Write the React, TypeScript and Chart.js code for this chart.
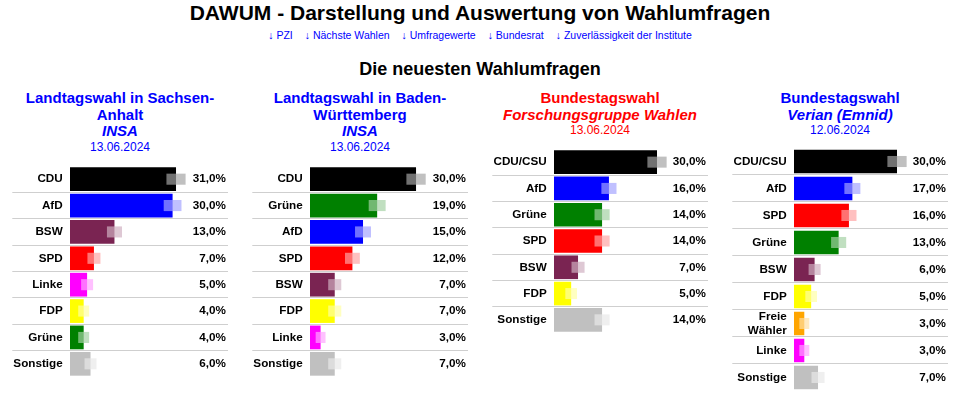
import React, { useEffect, useRef } from 'react';
import { Chart, registerables } from 'chart.js';

Chart.register(...registerables);

const FONT = "'Liberation Sans', Arial, Helvetica, sans-serif";

const pageTitle = 'DAWUM - Darstellung und Auswertung von Wahlumfragen';
const navLinks = ['PZI', 'Nächste Wahlen', 'Umfragewerte', 'Bundesrat', 'Zuverlässigkeit der Institute'];
const sectionTitle = 'Die neuesten Wahlumfragen';

// Panel 1: Sachsen-Anhalt, INSA
const saTitle = ['Landtagswahl in Sachsen-', 'Anhalt'];
const saInstitute = 'INSA';
const saDate = '13.06.2024';
const saParties = ['CDU', 'AfD', 'BSW', 'SPD', 'Linke', 'FDP', 'Grüne', 'Sonstige'];
const saValues = [31, 30, 13, 7, 5, 4, 4, 6];
const saMargins = [2.8, 2.6, 2.2, 1.9, 1.75, 1.6, 1.6, 1.75];

// Panel 2: Baden-Württemberg, INSA
const bwTitle = ['Landtagswahl in Baden-', 'Württemberg'];
const bwInstitute = 'INSA';
const bwDate = '13.06.2024';
const bwParties = ['CDU', 'Grüne', 'AfD', 'SPD', 'BSW', 'FDP', 'Linke', 'Sonstige'];
const bwValues = [30, 19, 15, 12, 7, 7, 3, 7];
const bwMargins = [2.73, 2.4, 2.26, 2.1, 1.85, 1.85, 1.4, 1.85];

// Panel 3: Bundestag, Forschungsgruppe Wahlen
const fgTitle = ['Bundestagswahl'];
const fgInstitute = 'Forschungsgruppe Wahlen';
const fgDate = '13.06.2024';
const fgParties = ['CDU/CSU', 'AfD', 'Grüne', 'SPD', 'BSW', 'FDP', 'Sonstige'];
const fgValues = [30, 16, 14, 14, 7, 5, 14];
const fgMargins = [2.8, 2.2, 2.2, 2.2, 1.9, 1.7, 2.2];

// Panel 4: Bundestag, Verian (Emnid)
const vtTitle = ['Bundestagswahl'];
const vtInstitute = 'Verian (Emnid)';
const vtDate = '12.06.2024';
const vtParties = ['CDU/CSU', 'AfD', 'SPD', 'Grüne', 'BSW', 'FDP', 'Freie Wähler', 'Linke', 'Sonstige'];
const vtValues = [30, 17, 16, 13, 6, 5, 3, 3, 7];
const vtMargins = [2.8, 2.33, 2.2, 2.2, 1.75, 1.7, 1.45, 1.45, 1.9];

const partyColors: Record<string, string> = {
  CDU: '#000000',
  'CDU/CSU': '#000000',
  AfD: '#0000ff',
  BSW: '#7a2452',
  SPD: '#ff0000',
  Linke: '#ff00ff',
  FDP: '#ffff00',
  'Grüne': '#008000',
  Sonstige: '#c0c0c0',
  'Freie Wähler': '#ffa500',
};

function squareColor(hex: string): string {
  const r = parseInt(hex.slice(1, 3), 16);
  const g = parseInt(hex.slice(3, 5), 16);
  const b = parseInt(hex.slice(5, 7), 16);
  const mix = (c: number) => Math.round(c * 0.36 + 255 * 0.64);
  return `rgba(${mix(r)},${mix(g)},${mix(b)},0.69)`;
}

const fmt = (v: number) => v.toFixed(1).replace('.', ',') + '%';

type ChartProps = {
  parties: string[];
  values: number[];
  margins: number[];
  left: number;
  top: number;
  height: number;
  barStart: number;
  xMax: number;
  padTop: number;
  padBottom: number;
  barPct: number;
  sqPct: number;
};

function PollChart(p: ChartProps) {
  const ref = useRef<HTMLCanvasElement>(null);
  useEffect(() => {
    const canvas = ref.current;
    if (!canvas) return;
    const tickLength = p.barStart - 12.3;
    const labelFont = { family: FONT, size: 11.7, weight: 'bold' as const, lineHeight: 1.2 };
    const sep = (ctx: any) =>
      ctx.type === 'tick' && ctx.index > 0 ? '#cfcfcf' : 'rgba(0,0,0,0)';
    const chart = new Chart(canvas, {
      type: 'bar',
      data: {
        labels: p.parties.map((n) => (n.includes(' ') ? n.split(' ') : n)),
        datasets: [
          {
            data: p.values.map((v, i) => [v - p.margins[i], v + p.margins[i]]),
            backgroundColor: p.parties.map((n) => squareColor(partyColors[n])),
            barPercentage: p.sqPct,
            categoryPercentage: 1,
            grouped: false,
            order: 0,
          } as any,
          {
            data: p.values,
            backgroundColor: p.parties.map((n) => partyColors[n]),
            barPercentage: p.barPct,
            categoryPercentage: 1,
            grouped: false,
            order: 1,
          } as any,
        ],
      },
      options: {
        indexAxis: 'y',
        responsive: false,
        animation: false,
        layout: { padding: { left: 0, right: 12, top: p.padTop, bottom: p.padBottom } },
        plugins: { legend: { display: false }, tooltip: { enabled: false } },
        scales: {
          x: { display: false, min: 0, max: p.xMax },
          y: {
            type: 'category',
            position: 'left',
            offset: true,
            grid: {
              offset: true,
              color: sep,
              tickColor: sep,
              lineWidth: 1,
              drawTicks: true,
              tickLength,
            },
            border: { display: false },
            ticks: {
              autoSkip: false,
              padding: 7.3 - tickLength,
              color: '#000',
              font: labelFont,
            },
            afterFit: (s: any) => {
              s.width = p.barStart;
            },
          },
          y2: {
            type: 'category',
            position: 'right',
            offset: true,
            labels: p.values.map(fmt),
            grid: { display: false },
            border: { display: false },
            ticks: { autoSkip: false, mirror: true, padding: -2, color: '#000', font: labelFont },
            afterFit: (s: any) => {
              s.width = 0;
            },
          },
        },
      } as any,
    });
    return () => chart.destroy();
  }, []);
  return (
    <canvas
      ref={ref}
      width={240}
      height={p.height}
      style={{ position: 'absolute', left: p.left, top: p.top, width: 240, height: p.height }}
    />
  );
}

function PanelTitle(props: { left: number; lines: string[]; institute: string; date: string; color: string }) {
  const { left, lines, institute, date, color } = props;
  const lineStyle: React.CSSProperties = {
    fontSize: 15,
    fontWeight: 'bold',
    lineHeight: '16.5px',
    height: 16.5,
    whiteSpace: 'nowrap',
  };
  return (
    <div
      style={{
        position: 'absolute',
        left,
        top: 90,
        width: 240,
        textAlign: 'center',
        color,
        fontFamily: FONT,
      }}
    >
      {lines.map((l, i) => (
        <div key={i} style={lineStyle}>
          {l}
        </div>
      ))}
      <div style={{ ...lineStyle, fontStyle: 'italic' }}>{institute}</div>
      <div style={{ fontSize: 12, lineHeight: '14px', height: 14 }}>{date}</div>
    </div>
  );
}

export default function App() {
  return (
    <div
      style={{
        position: 'fixed',
        left: 0,
        top: 0,
        width: 964,
        height: 396,
        overflow: 'hidden',
        background: '#fff',
        fontFamily: FONT,
      }}
    >
      <div
        style={{
          position: 'absolute',
          left: 0,
          top: 1,
          width: 960,
          textAlign: 'center',
          fontSize: 21,
          fontWeight: 'bold',
          lineHeight: '24px',
          color: '#000',
        }}
      >
        {pageTitle}
      </div>
      <div
        style={{
          position: 'absolute',
          left: 0,
          top: 29,
          width: 960,
          textAlign: 'center',
          fontSize: 10.5,
          lineHeight: '12px',
          color: '#0000ff',
          whiteSpace: 'nowrap',
        }}
      >
        {navLinks.map((l, i) => (
          <span key={i} style={{ margin: '0 6px' }}>
            {'↓ ' + l}
          </span>
        ))}
      </div>
      <div
        style={{
          position: 'absolute',
          left: 0,
          top: 59,
          width: 960,
          textAlign: 'center',
          fontSize: 18,
          fontWeight: 'bold',
          lineHeight: '20px',
          color: '#000',
        }}
      >
        {sectionTitle}
      </div>

      <PanelTitle left={0} lines={saTitle} institute={saInstitute} date={saDate} color="#0000ff" />
      <PanelTitle left={240} lines={bwTitle} institute={bwInstitute} date={bwDate} color="#0000ff" />
      <PanelTitle left={480} lines={fgTitle} institute={fgInstitute} date={fgDate} color="#ff0000" />
      <PanelTitle left={720} lines={vtTitle} institute={vtInstitute} date={vtDate} color="#0000ff" />

      <PollChart
        parties={saParties}
        values={saValues}
        margins={saMargins}
        left={0}
        top={156}
        height={231}
        barStart={70}
        xMax={46.2}
        padTop={10}
        padBottom={10}
        barPct={0.9}
        sqPct={0.42}
      />
      <PollChart
        parties={bwParties}
        values={bwValues}
        margins={bwMargins}
        left={240}
        top={156}
        height={231}
        barStart={70}
        xMax={44.7}
        padTop={10}
        padBottom={10}
        barPct={0.9}
        sqPct={0.42}
      />
      <PollChart
        parties={fgParties}
        values={fgValues}
        margins={fgMargins}
        left={480}
        top={139}
        height={204}
        barStart={74}
        xMax={44.85}
        padTop={10}
        padBottom={10}
        barPct={0.9}
        sqPct={0.42}
      />
      <PollChart
        parties={vtParties}
        values={vtValues}
        margins={vtMargins}
        left={720}
        top={138}
        height={258}
        barStart={74}
        xMax={44.85}
        padTop={10}
        padBottom={5}
        barPct={0.87}
        sqPct={0.41}
      />
    </div>
  );
}
